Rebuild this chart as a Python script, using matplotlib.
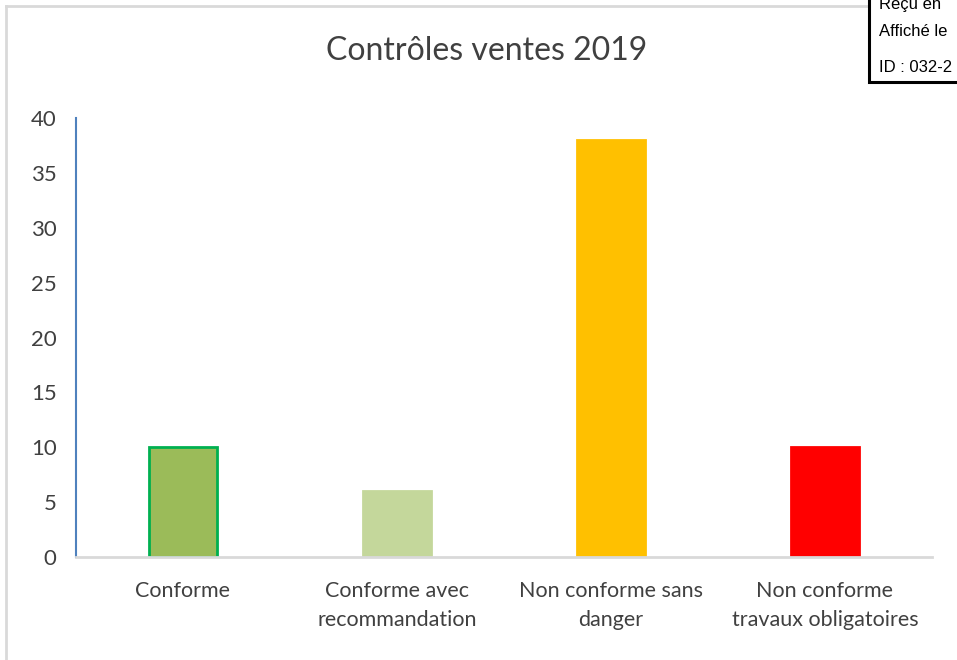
import matplotlib.pyplot as plt
from matplotlib.patches import Rectangle

categories = ["Conforme", "Conforme avec\nrecommandation",
              "Non conforme sans\ndanger", "Non conforme\ntravaux obligatoires"]
values = [10, 6, 38, 10]
colors = ["#9BBB59", "#C4D79B", "#FFC000", "#FF0000"]
edges = ["#00B050", "#C4D79B", "#FFC000", "#FF0000"]
yticks = [0, 5, 10, 15, 20, 25, 30, 35, 40]

plt.rcParams['font.family'] = ['Lato', 'DejaVu Sans']

W, H = 957, 660
fig = plt.figure(figsize=(W / 100, H / 100), dpi=100)

# outer chart frame (light gray)
fig.add_artist(plt.Line2D([6 / W, 6 / W], [0, 1 - 6 / H], color="#D9D9D9", lw=2))
fig.add_artist(plt.Line2D([6 / W, 1], [1 - 6 / H, 1 - 6 / H], color="#D9D9D9", lw=2))

ax = fig.add_axes([76 / W, 103 / H, 856 / W, 439 / H])
x = range(len(categories))
ax.bar(x, values, width=0.318, color=colors, edgecolor=edges, linewidth=2)
ax.set_xlim(-0.5, 3.5)
ax.set_ylim(0, 40)
ax.set_yticks(yticks)
ax.set_xticks(list(x))
ax.set_xticklabels(categories, fontsize=15.5, color="#404040", linespacing=1.6)
ax.tick_params(axis="y", labelsize=16, labelcolor="#404040", length=0, pad=14)
ax.tick_params(axis="x", length=0, pad=17)
for s in ["top", "right"]:
    ax.spines[s].set_visible(False)
ax.spines["left"].set_color("#4F81BD")
ax.spines["left"].set_linewidth(1.5)
ax.spines["bottom"].set_color("#D9D9D9")
ax.spines["bottom"].set_linewidth(2)

fig.text(487 / W, 1 - 51 / H, "Contrôles ventes 2019", ha="center", va="center",
         fontsize=23, color="#404040")

# stamp box in the top-right corner
fig.add_artist(Rectangle((869 / W, 1 - 82 / H), 0.2, 0.2, transform=fig.transFigure,
                         facecolor="white", edgecolor="black", lw=2.2, zorder=5))
for yy, txt in [(5, "Reçu en"), (31, "Affiché le"), (67, "ID : 032-2")]:
    fig.text(879 / W, 1 - yy / H, txt, ha="left", va="center", fontsize=12,
             family="Liberation Sans", color="black", zorder=6)

fig.savefig("out.png", dpi=100)
